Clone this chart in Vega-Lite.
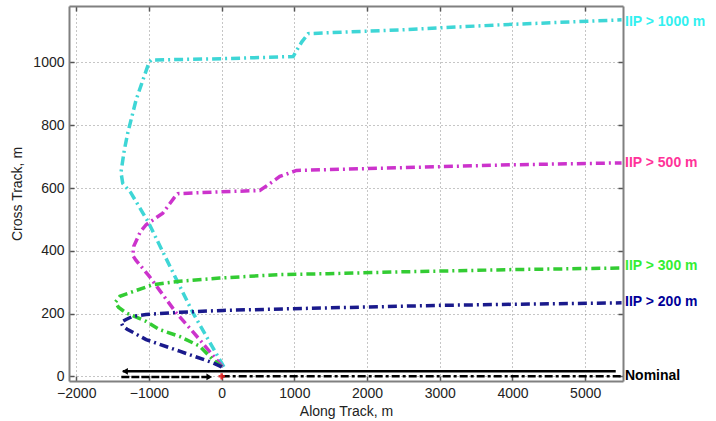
{
  "$schema": "https://vega.github.io/schema/vega-lite/v6.json",
  "width": 554,
  "height": 375,
  "autosize": {"type": "none"},
  "padding": {"left": 69, "top": 6, "right": 93, "bottom": 40},
  "background": "white",
  "config": {
    "view": {"stroke": null},
    "font": "Liberation Sans",
    "axis": {
      "labelFont": "Liberation Sans",
      "labelFontSize": 14,
      "labelColor": "#222222",
      "titleFont": "Liberation Sans",
      "titleFontSize": 14,
      "titleFontWeight": "normal",
      "titleColor": "#222222",
      "domainColor": "#808080",
      "domainWidth": 2,
      "tickColor": "#555555",
      "tickSize": -5,
      "tickWidth": 1.5,
      "labelPadding": 10,
      "gridColor": "#8c8c8c",
      "gridDash": [1, 3],
      "gridWidth": 1
    }
  },
  "datasets": {
    "curves": [
      {"s": "IIP > 1000 m", "i": 1, "x": 30, "y": 30},
      {"s": "IIP > 1000 m", "i": 2, "x": -395, "y": 202},
      {"s": "IIP > 1000 m", "i": 3, "x": -700, "y": 345},
      {"s": "IIP > 1000 m", "i": 4, "x": -1016, "y": 494},
      {"s": "IIP > 1000 m", "i": 5, "x": -1250, "y": 585},
      {"s": "IIP > 1000 m", "i": 6, "x": -1361, "y": 615},
      {"s": "IIP > 1000 m", "i": 7, "x": -1385, "y": 650},
      {"s": "IIP > 1000 m", "i": 8, "x": -1340, "y": 720},
      {"s": "IIP > 1000 m", "i": 9, "x": -1292, "y": 775},
      {"s": "IIP > 1000 m", "i": 10, "x": -1177, "y": 881},
      {"s": "IIP > 1000 m", "i": 11, "x": -1060, "y": 960},
      {"s": "IIP > 1000 m", "i": 12, "x": -1000, "y": 1000},
      {"s": "IIP > 1000 m", "i": 13, "x": -970, "y": 1008},
      {"s": "IIP > 1000 m", "i": 14, "x": 0, "y": 1012},
      {"s": "IIP > 1000 m", "i": 15, "x": 983, "y": 1019},
      {"s": "IIP > 1000 m", "i": 16, "x": 1100, "y": 1065},
      {"s": "IIP > 1000 m", "i": 17, "x": 1190, "y": 1092},
      {"s": "IIP > 1000 m", "i": 18, "x": 2455, "y": 1104},
      {"s": "IIP > 1000 m", "i": 19, "x": 3834, "y": 1120},
      {"s": "IIP > 1000 m", "i": 20, "x": 5500, "y": 1136},
      {"s": "IIP > 500 m", "i": 1, "x": 10, "y": 30},
      {"s": "IIP > 500 m", "i": 2, "x": -303, "y": 117},
      {"s": "IIP > 500 m", "i": 3, "x": -625, "y": 202},
      {"s": "IIP > 500 m", "i": 4, "x": -1000, "y": 320},
      {"s": "IIP > 500 m", "i": 5, "x": -1180, "y": 370},
      {"s": "IIP > 500 m", "i": 6, "x": -1223, "y": 385},
      {"s": "IIP > 500 m", "i": 7, "x": -1210, "y": 414},
      {"s": "IIP > 500 m", "i": 8, "x": -1120, "y": 460},
      {"s": "IIP > 500 m", "i": 9, "x": -1039, "y": 483},
      {"s": "IIP > 500 m", "i": 10, "x": -810, "y": 520},
      {"s": "IIP > 500 m", "i": 11, "x": -650, "y": 570},
      {"s": "IIP > 500 m", "i": 12, "x": -603, "y": 582},
      {"s": "IIP > 500 m", "i": 13, "x": 0, "y": 588},
      {"s": "IIP > 500 m", "i": 14, "x": 524, "y": 592},
      {"s": "IIP > 500 m", "i": 15, "x": 700, "y": 620},
      {"s": "IIP > 500 m", "i": 16, "x": 800, "y": 637},
      {"s": "IIP > 500 m", "i": 17, "x": 1030, "y": 656},
      {"s": "IIP > 500 m", "i": 18, "x": 2000, "y": 662},
      {"s": "IIP > 500 m", "i": 19, "x": 3000, "y": 668},
      {"s": "IIP > 500 m", "i": 20, "x": 4000, "y": 674},
      {"s": "IIP > 500 m", "i": 21, "x": 5500, "y": 680},
      {"s": "IIP > 300 m", "i": 1, "x": 0, "y": 30},
      {"s": "IIP > 300 m", "i": 2, "x": -120, "y": 53},
      {"s": "IIP > 300 m", "i": 3, "x": -303, "y": 96},
      {"s": "IIP > 300 m", "i": 4, "x": -579, "y": 127},
      {"s": "IIP > 300 m", "i": 5, "x": -855, "y": 149},
      {"s": "IIP > 300 m", "i": 6, "x": -1039, "y": 175},
      {"s": "IIP > 300 m", "i": 7, "x": -1315, "y": 202},
      {"s": "IIP > 300 m", "i": 8, "x": -1420, "y": 220},
      {"s": "IIP > 300 m", "i": 9, "x": -1462, "y": 236},
      {"s": "IIP > 300 m", "i": 10, "x": -1400, "y": 255},
      {"s": "IIP > 300 m", "i": 11, "x": -1269, "y": 266},
      {"s": "IIP > 300 m", "i": 12, "x": -947, "y": 292},
      {"s": "IIP > 300 m", "i": 13, "x": -579, "y": 303},
      {"s": "IIP > 300 m", "i": 14, "x": -28, "y": 313},
      {"s": "IIP > 300 m", "i": 15, "x": 800, "y": 324},
      {"s": "IIP > 300 m", "i": 16, "x": 1466, "y": 327},
      {"s": "IIP > 300 m", "i": 17, "x": 2500, "y": 333},
      {"s": "IIP > 300 m", "i": 18, "x": 4000, "y": 340},
      {"s": "IIP > 300 m", "i": 19, "x": 5500, "y": 345},
      {"s": "IIP > 200 m", "i": 1, "x": 0, "y": 30},
      {"s": "IIP > 200 m", "i": 2, "x": -120, "y": 43},
      {"s": "IIP > 200 m", "i": 3, "x": -579, "y": 80},
      {"s": "IIP > 200 m", "i": 4, "x": -1039, "y": 117},
      {"s": "IIP > 200 m", "i": 5, "x": -1300, "y": 150},
      {"s": "IIP > 200 m", "i": 6, "x": -1361, "y": 160},
      {"s": "IIP > 200 m", "i": 7, "x": -1383, "y": 172},
      {"s": "IIP > 200 m", "i": 8, "x": -1315, "y": 181},
      {"s": "IIP > 200 m", "i": 9, "x": -1223, "y": 191},
      {"s": "IIP > 200 m", "i": 10, "x": -1039, "y": 197},
      {"s": "IIP > 200 m", "i": 11, "x": -579, "y": 204},
      {"s": "IIP > 200 m", "i": 12, "x": 18, "y": 210},
      {"s": "IIP > 200 m", "i": 13, "x": 1466, "y": 218},
      {"s": "IIP > 200 m", "i": 14, "x": 3000, "y": 226},
      {"s": "IIP > 200 m", "i": 15, "x": 4500, "y": 231},
      {"s": "IIP > 200 m", "i": 16, "x": 5500, "y": 234}
    ],
    "nominal": [
      {"part": "solid", "x": -1360, "y": 16},
      {"part": "solid", "x": 5420, "y": 16},
      {"part": "dashed", "x": -1380, "y": -2},
      {"part": "dashed", "x": -150, "y": -2},
      {"part": "dashdot", "x": 0, "y": 0},
      {"part": "dashdot", "x": 5500, "y": 0}
    ],
    "arrows": [
      {"dir": "left", "x": -1330, "y": 16},
      {"dir": "right", "x": -170, "y": -2}
    ],
    "origin": [{"x": 0, "y": 0}],
    "labels": [
      {"s": "IIP > 1000 m", "x": 5520, "y": 1130},
      {"s": "IIP > 500 m", "x": 5520, "y": 680},
      {"s": "IIP > 300 m", "x": 5520, "y": 350},
      {"s": "IIP > 200 m", "x": 5520, "y": 236},
      {"s": "Nominal", "x": 5520, "y": 2}
    ]
  },
  "resolve": {"scale": {"color": "independent", "shape": "independent"}, "axis": {"x": "independent", "y": "independent"}},
  "layer": [
    {
      "data": {"name": "curves"},
      "mark": {"type": "line", "strokeWidth": 3.5, "strokeDash": [9, 4, 2, 4], "clip": true},
      "encoding": {
        "x": {"field": "x", "type": "quantitative", "scale": {"domain": [-2100, 5520], "nice": false, "zero": false},
          "axis": {"orient": "bottom", "title": "Along Track, m", "values": [-2000, -1000, 0, 1000, 2000, 3000, 4000, 5000], "format": "d", "grid": true, "titlePadding": 4}},
        "y": {"field": "y", "type": "quantitative", "scale": {"domain": [-15, 1180], "nice": false, "zero": false},
          "axis": {"orient": "left", "title": "Cross Track, m", "values": [0, 200, 400, 600, 800, 1000], "format": "d", "grid": true, "titlePadding": 8}},
        "color": {"field": "s", "type": "nominal", "legend": null,
          "scale": {"domain": ["IIP > 1000 m", "IIP > 500 m", "IIP > 300 m", "IIP > 200 m"], "range": ["#3ED6D6", "#CC33CC", "#33CC33", "#1A1A8C"]}},
        "order": {"field": "i", "type": "quantitative"}
      }
    },
    {
      "data": {"name": "nominal"},
      "mark": {"type": "line", "strokeWidth": 2.5, "color": "black", "clip": true},
      "encoding": {
        "x": {"field": "x", "type": "quantitative", "axis": {"orient": "top", "labels": false, "title": null, "grid": false, "values": [-2000, -1000, 0, 1000, 2000, 3000, 4000, 5000]}},
        "y": {"field": "y", "type": "quantitative", "axis": {"orient": "right", "labels": false, "title": null, "grid": false, "values": [0, 200, 400, 600, 800, 1000]}},
        "strokeDash": {"field": "part", "type": "nominal", "legend": null,
          "scale": {"domain": ["solid", "dashed", "dashdot"], "range": [[1, 0], [8, 2], [8, 3, 3, 3]]}},
        "detail": {"field": "part"}
      }
    },
    {
      "data": {"name": "arrows"},
      "mark": {"type": "point", "filled": true, "color": "black", "size": 45, "opacity": 1},
      "encoding": {
        "x": {"field": "x", "type": "quantitative", "axis": null},
        "y": {"field": "y", "type": "quantitative", "axis": null},
        "shape": {"field": "dir", "type": "nominal", "legend": null,
          "scale": {"domain": ["left", "right"], "range": ["triangle-left", "triangle-right"]}}
      }
    },
    {
      "data": {"name": "origin"},
      "mark": {"type": "point", "shape": "cross", "filled": true, "color": "#E02020", "size": 40, "opacity": 0.9},
      "encoding": {
        "x": {"field": "x", "type": "quantitative", "axis": null},
        "y": {"field": "y", "type": "quantitative", "axis": null}
      }
    },
    {
      "data": {"name": "labels"},
      "mark": {"type": "text", "align": "left", "baseline": "middle", "dx": 2, "font": "Liberation Sans", "fontSize": 14, "fontWeight": "bold"},
      "encoding": {
        "x": {"field": "x", "type": "quantitative", "axis": null},
        "y": {"field": "y", "type": "quantitative", "axis": null},
        "text": {"field": "s"},
        "color": {"field": "s", "type": "nominal", "legend": null,
          "scale": {"domain": ["IIP > 1000 m", "IIP > 500 m", "IIP > 300 m", "IIP > 200 m", "Nominal"], "range": ["#33F0F0", "#FF3399", "#33EE33", "#000099", "#000000"]}}
      }
    }
  ]
}
